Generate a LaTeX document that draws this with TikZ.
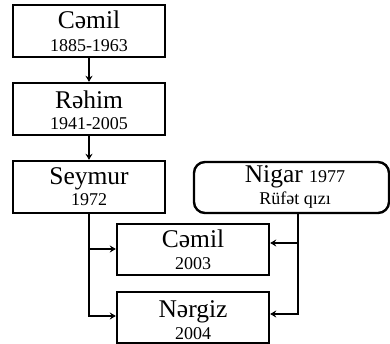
\documentclass[tikz,border=0pt]{standalone}
\usepackage{fontspec}
\setmainfont{Liberation Serif}
\usetikzlibrary{arrows.meta}
\begin{document}
\begin{tikzpicture}[x=1pt,y=1pt,
  box/.style={draw, line width=2.4pt, minimum width=152pt, minimum height=52pt, inner sep=0pt},
  rbox/.style={box, rounded corners=11pt, minimum width=195pt, minimum height=51pt},
  nm/.style={anchor=base, font=\fontsize{25.5}{25.5}\selectfont, inner sep=0pt},
  dt/.style={anchor=base, font=\fontsize{18}{18}\selectfont, inner sep=0pt},
  arr/.style={line width=2.4pt, -{Stealth[length=6pt,width=7pt]}}]
\useasboundingbox (0,0) rectangle (390,344);
% boxes (y measured upward)
\node[box] (b1) at (89,313) {};
\node[box] (b2) at (89,235) {};
\node[box] (b3) at (89,157) {};
\node[rbox] (b4) at (291.5,156.5) {};
\node[box, minimum height=51pt] (b5) at (193,94.5) {};
\node[box, minimum height=51pt] (b6) at (193,26.5) {};
% texts
\node[nm] (t1) at ([yshift=2pt]b1.center) {Cəmil};
\node[dt] (d1) at ([yshift=-21pt]b1.center) {1885-1963};
\node[nm] (t2) at ([yshift=0.5pt]b2.center) {Rəhim};
\node[dt] (d2) at ([yshift=-21pt]b2.center) {1941-2005};
\node[nm] (t3) at ([yshift=2pt]b3.center) {Seymur};
\node[dt] (d3) at ([yshift=-19pt]b3.center) {1972};
\node[nm] (t4) at ([xshift=3.5pt,yshift=4.5pt]b4.center) {Nigar \fontsize{18}{18}\selectfont 1977};
\node[dt] (d4) at ([xshift=3.5pt,yshift=-17.5pt]b4.center) {Rüfət qızı};
\node[nm] (t5) at ([yshift=1.5pt]b5.center) {Cəmil};
\node[dt] (d5) at ([yshift=-20.5pt]b5.center) {2003};
\node[nm] (t6) at ([yshift=0pt]b6.center) {Nərgiz};
\node[dt] (d6) at ([yshift=-22pt]b6.center) {2004};
% connectors
\draw[arr] (b1.south) -- (b2.north);
\draw[arr] (b2.south) -- (b3.north);
\draw[arr] (b3.south) |- ([yshift=1.5pt]b6.west);
\draw[arr] (b3.south) |- ([yshift=0.5pt]b5.west);
\coordinate (nd) at ([xshift=6.5pt]b4.south);
\draw[arr] (nd) |- ([yshift=6.5pt]b5.east);
\draw[arr] (nd) |- ([yshift=3.5pt]b6.east);
\end{tikzpicture}
\end{document}
